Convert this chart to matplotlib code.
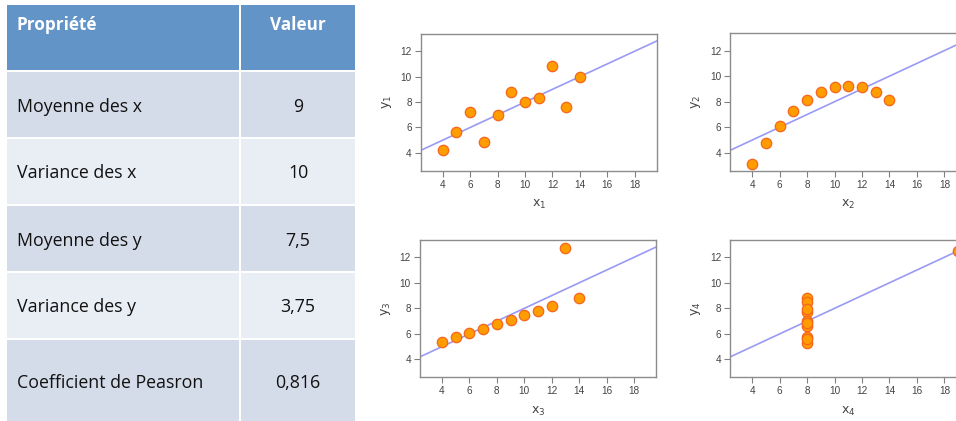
import numpy as np
import matplotlib
matplotlib.use("Agg")
import matplotlib.pyplot as plt
from matplotlib.patches import Rectangle

# Table content
header = ["Propriété", "Valeur"]
proprietes = ["Moyenne des x", "Variance des x", "Moyenne des y",
              "Variance des y", "Coefficient de Peasron"]
valeurs = ["9", "10", "7,5", "3,75", "0,816"]

# Anscombe's quartet
x123 = [10, 8, 13, 9, 11, 14, 6, 4, 12, 7, 5]
x4 = [8, 8, 8, 8, 8, 8, 8, 19, 8, 8, 8]
y1 = [8.04, 6.95, 7.58, 8.81, 8.33, 9.96, 7.24, 4.26, 10.84, 4.82, 5.68]
y2 = [9.14, 8.14, 8.74, 8.77, 9.26, 8.10, 6.13, 3.10, 9.13, 7.26, 4.74]
y3 = [7.46, 6.77, 12.74, 7.11, 7.81, 8.84, 6.08, 5.39, 8.15, 6.42, 5.73]
y4 = [6.58, 5.76, 7.71, 8.84, 8.47, 7.04, 5.25, 12.50, 5.56, 7.91, 6.89]

W, H = 956, 421
fig = plt.figure(figsize=(W / 100, H / 100), dpi=100)

# ---- table drawn in pixel coordinates ----
tab = fig.add_axes([0, 0, 1, 1])
tab.set_xlim(0, W)
tab.set_ylim(H, 0)
tab.axis("off")

col_x = [(7, 239), (241, 355)]
row_y = [(5, 70), (72, 137), (139, 204), (206, 271), (273, 338), (340, 425)]
row_colors = ["#d5dce9", "#e9edf4"]
tfont = "Open Sans"

for (x0, x1) in col_x:
    y0, y1_ = row_y[0]
    tab.add_patch(Rectangle((x0, y0), x1 - x0, y1_ - y0, color="#6394c8", lw=0))
tab.text(17, 25, header[0], color="white", fontsize=12.3, fontweight="bold",
         family=tfont, va="center", ha="left")
tab.text(298, 25, header[1], color="white", fontsize=12.3, fontweight="bold",
         family=tfont, va="center", ha="center")

for i, (prop, val) in enumerate(zip(proprietes, valeurs)):
    y0, y1_ = row_y[i + 1]
    c = row_colors[i % 2]
    for (x0, x1) in col_x:
        tab.add_patch(Rectangle((x0, y0), x1 - x0, y1_ - y0, color=c, lw=0))
    yc = (y0 + min(y1_, 421)) / 2 + 2
    tab.text(17, yc, prop, fontsize=12.8, family=tfont, va="center", ha="left",
             color="#111111")
    tab.text(298, yc, val, fontsize=12.8, family=tfont, va="center", ha="center",
             color="#111111")

# ---- four scatter plots ----
panels = [
    ([0.4401, 0.5945, 0.2469, 0.3247], x123, y1, "1"),
    ([0.7639, 0.5945, 0.2469, 0.3263], x123, y2, "2"),
    ([0.4393, 0.1038, 0.2469, 0.3261], x123, y3, "3"),
    ([0.7639, 0.1038, 0.2469, 0.3261], x4, y4, "4"),
]

for rect, xs, ys, k in panels:
    ax = fig.add_axes(rect)
    xlim = (2.4, 19.6)
    slope, inter = np.polyfit(xs, ys, 1)
    xl = np.array(xlim)
    ax.plot(xl, inter + slope * xl, color="#9a9af5", lw=1.2, zorder=2)
    ax.plot(xs, ys, "o", ms=7.5, mfc="#ff9c00", mec="#f5651e", mew=0.9,
            zorder=3, clip_on=True)
    ax.set_xlim(*xlim)
    ax.set_ylim(2.6, 13.35)
    ax.set_xticks(range(4, 19, 2))
    ax.set_yticks(range(4, 13, 2))
    for s in ax.spines.values():
        s.set_color("#8c8c8c")
        s.set_linewidth(1.0)
    ax.tick_params(colors="#808080", labelcolor="#444444", labelsize=7.2,
                   length=4, width=0.8, pad=2.5)
    for lab in ax.get_xticklabels() + ax.get_yticklabels():
        lab.set_family("Liberation Sans")
    ax.set_xlabel(r"$\mathregular{x_%s}$" % k, fontsize=9, color="#444444",
                  labelpad=6)
    ax.set_ylabel(r"$\mathregular{y_%s}$" % k, fontsize=9, color="#444444",
                  labelpad=5)

fig.savefig("out.png", dpi=100)
